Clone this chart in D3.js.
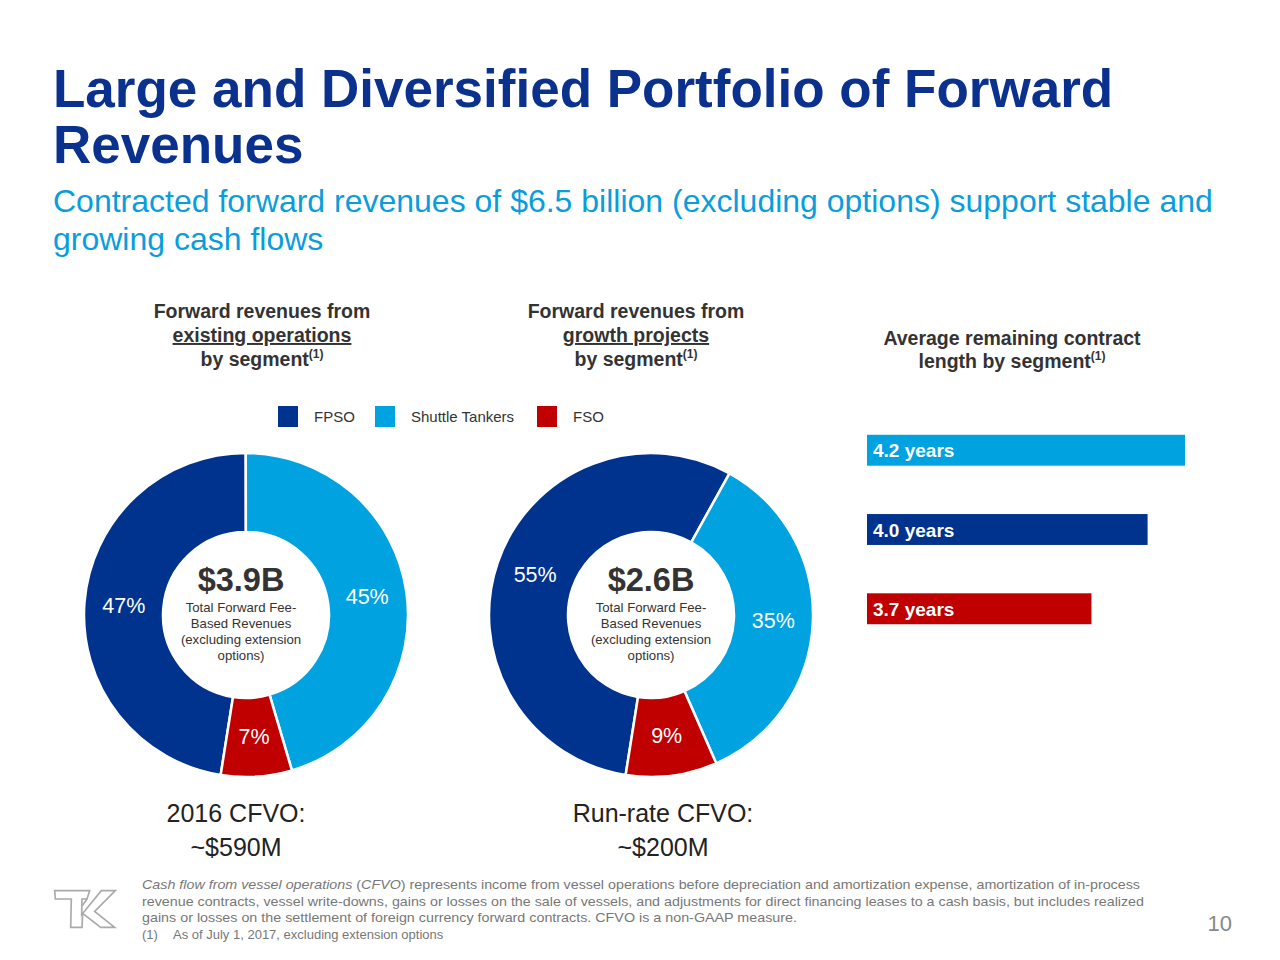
<!DOCTYPE html>
<html><head><meta charset="utf-8">
<script src="https://cdn.jsdelivr.net/npm/d3@7"></script>
<style>
body{margin:0;background:#fff;}
svg{display:block;font-family:"Liberation Sans",Arial,Helvetica,sans-serif;}
</style></head>
<body>
<svg id="c" width="1280" height="960"></svg>
<script>
// ---- data ----
const segments = ["FPSO", "Shuttle Tankers", "FSO"];
const existingShares = [47, 45, 7];
const growthShares = [55, 35, 9];
const existingTotal = "$3.9B";
const growthTotal = "$2.6B";
const barSegments = ["Shuttle Tankers", "FPSO", "FSO"];
const barYears = [4.2, 4.0, 3.7];
const barLabels = ["4.2 years", "4.0 years", "3.7 years"];

const colors = {"FPSO":"#00338d", "Shuttle Tankers":"#00a3e0", "FSO":"#c00000"};
const svg = d3.select("#c");

// ---- titles ----
svg.append("text").attr("x",53).attr("y",107).attr("fill","#0b318f")
  .attr("font-size",53).attr("font-weight","bold").text("Large and Diversified Portfolio of Forward");
svg.append("text").attr("x",53).attr("y",163).attr("fill","#0b318f")
  .attr("font-size",53).attr("font-weight","bold").text("Revenues");
svg.append("text").attr("x",53).attr("y",212).attr("fill","#0a9ddb")
  .attr("font-size",32).text("Contracted forward revenues of $6.5 billion (excluding options) support stable and");
svg.append("text").attr("x",53).attr("y",250).attr("fill","#0a9ddb")
  .attr("font-size",32).text("growing cash flows");

// ---- section headers ----
function header(cx, lines){
  lines.forEach(l=>{
    const t = svg.append("text").attr("x",cx).attr("y",l.y).attr("text-anchor","middle")
      .attr("fill","#333").attr("font-size",19.5).attr("font-weight","bold");
    t.append("tspan").text(l.t).attr("text-decoration", l.u ? "underline" : null);
    if(l.sup){ t.append("tspan").attr("font-size",12).attr("dy",-8).text("(1)"); }
  });
}
header(262,[{t:"Forward revenues from",y:318},{t:"existing operations",y:342,u:true},{t:"by segment",y:366,sup:true}]);
header(636,[{t:"Forward revenues from",y:318},{t:"growth projects",y:342,u:true},{t:"by segment",y:366,sup:true}]);
header(1012,[{t:"Average remaining contract",y:345},{t:"length by segment",y:368,sup:true}]);

// ---- legend ----
const legX = [278, 375, 537];
segments.forEach((s,i)=>{
  svg.append("rect").attr("x",legX[i]).attr("y",406).attr("width",20).attr("height",21).attr("fill",colors[s]);
  svg.append("text").attr("x",legX[i]+36).attr("y",422).attr("font-size",15).attr("fill","#333").text(s);
});

// ---- donuts ----
const pie = d3.pie().sort(null).value(d=>d.v)
  .startAngle(189*Math.PI/180).endAngle(189*Math.PI/180 + 2*Math.PI);
const arc = d3.arc().innerRadius(83).outerRadius(162);

function donut(cx, cy, shares, total, textDx, bottom){
  const g = svg.append("g").attr("transform",`translate(${cx},${cy})`);
  const data = pie(segments.map((s,i)=>({s, v:shares[i]})));
  g.selectAll("path").data(data).join("path").attr("d",arc)
    .attr("fill",d=>colors[d.data.s]).attr("stroke","#fff").attr("stroke-width",2.5);
  g.selectAll("text.pct").data(data).join("text").attr("class","pct")
    .attr("x",d=>arc.centroid(d)[0]).attr("y",d=>arc.centroid(d)[1]+7)
    .attr("text-anchor","middle").attr("fill","#fff").attr("font-size",21.5)
    .text(d=>d.data.v+"%");
  g.append("text").attr("x",textDx).attr("y",-24).attr("text-anchor","middle")
    .attr("font-size",32.5).attr("font-weight","bold").attr("fill","#333").text(total);
  ["Total Forward Fee-","Based Revenues","(excluding extension","options)"].forEach((l,i)=>{
    g.append("text").attr("x",textDx).attr("y",-3+i*16).attr("text-anchor","middle")
      .attr("font-size",13.2).attr("fill","#333").text(l);
  });
  bottom.forEach((l,i)=>{
    svg.append("text").attr("x",l.x).attr("y",822+i*34).attr("text-anchor","middle")
      .attr("font-size",25).attr("fill","#222").text(l.t);
  });
}
donut(246, 615, existingShares, existingTotal, -5, [{t:"2016 CFVO:",x:236},{t:"~$590M",x:236}]);
donut(651, 615, growthShares, growthTotal, 0, [{t:"Run-rate CFVO:",x:663},{t:"~$200M",x:663}]);

// ---- bars ----
const x = d3.scaleLinear().domain([2.5, 4.2]).range([867, 1185]);
const y = d3.scaleBand().domain(barSegments).range([411, 648]).paddingInner(0.61).paddingOuter(0.3);
svg.selectAll("rect.bar").data(barSegments).join("rect").attr("class","bar")
  .attr("x",x(2.5)).attr("y",d=>y(d)).attr("height",y.bandwidth())
  .attr("width",(d,i)=>x(barYears[i])-x(2.5)).attr("fill",d=>colors[d]);
svg.selectAll("text.bl").data(barSegments).join("text").attr("class","bl")
  .attr("x",873).attr("y",d=>y(d)+y.bandwidth()/2+7).attr("fill","#fff")
  .attr("font-size",19).attr("font-weight","bold").text((d,i)=>barLabels[i]);

// ---- footnotes ----
const fn = svg.append("g").attr("fill","#777").attr("font-size",14.2);
const l1 = fn.append("text").attr("x",142).attr("y",889).attr("textLength",998).attr("lengthAdjust","spacingAndGlyphs").attr("font-size",13.5);
l1.append("tspan").attr("font-style","italic").text("Cash flow from vessel operations");
l1.append("tspan").text(" (");
l1.append("tspan").attr("font-style","italic").text("CFVO");
l1.append("tspan").text(") represents income from vessel operations before depreciation and amortization expense, amortization of in-process");
fn.append("text").attr("x",142).attr("y",906).attr("font-size",13.5).attr("textLength",1002).attr("lengthAdjust","spacingAndGlyphs")
  .text("revenue contracts, vessel write-downs, gains or losses on the sale of vessels, and adjustments for direct financing leases to a cash basis, but includes realized");
fn.append("text").attr("x",142).attr("y",922).attr("font-size",13.5).attr("textLength",655).attr("lengthAdjust","spacingAndGlyphs")
  .text("gains or losses on the settlement of foreign currency forward contracts. CFVO is a non-GAAP measure.");
const l4 = fn.append("text").attr("x",142).attr("y",939).attr("font-size",13);
l4.append("tspan").text("(1)");
l4.append("tspan").attr("x",173).text("As of July 1, 2017, excluding extension options");
svg.append("text").attr("x",1232).attr("y",931).attr("text-anchor","end").attr("font-size",22).attr("fill","#888").text("10");

// ---- logo ----
const logo = svg.append("g").attr("transform","translate(48,884) scale(0.3333)")
  .attr("fill","#fff").attr("stroke","#aaa").attr("stroke-width",5).attr("stroke-linejoin","miter");
logo.append("path").attr("d","M20,20 L125,20 L117,45 L102,45 L101,92 L160,20 L202,20 L140,82 L200,130 L158,130 L104,88 L102,130 L68,130 L70,45 L22,45 Z");
logo.append("path").attr("d","M117,45 L102,66").attr("fill","none");
</script>
</body></html>
